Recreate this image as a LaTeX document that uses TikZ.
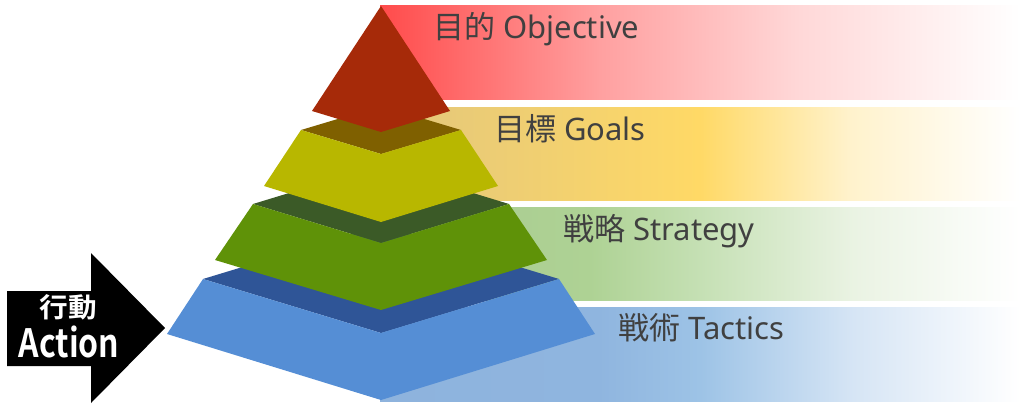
\documentclass[tikz,border=0pt]{standalone}
\usepackage{fontspec}
\setmainfont{Noto Sans}
\newfontfamily\cjk[BoldFont={Noto Sans CJK JP Bold}]{Noto Sans CJK JP}
\definecolor{txt}{HTML}{404040}
\definecolor{rA}{HTML}{FF4B4B}
\definecolor{rB}{HTML}{FFA0A0}
\definecolor{rC}{HTML}{FFD8D8}
\definecolor{yA}{HTML}{E2C67C}
\definecolor{yB}{HTML}{FFD966}
\definecolor{yC}{HTML}{FFF2CC}
\definecolor{gA}{HTML}{A8C991}
\definecolor{gB}{HTML}{AED294}
\definecolor{gC}{HTML}{C5E0B4}
\definecolor{gD}{HTML}{EAF3E3}
\definecolor{bA}{HTML}{8EB3DD}
\definecolor{bB}{HTML}{8FB5DF}
\definecolor{bC}{HTML}{9DC3E6}
\definecolor{bD}{HTML}{D6E5F5}
\definecolor{redface}{HTML}{A62A09}
\definecolor{ydark}{HTML}{7F6000}
\definecolor{yface}{HTML}{B8B700}
\definecolor{gdark}{HTML}{3B5A27}
\definecolor{gface}{HTML}{5F9208}
\definecolor{bdark}{HTML}{2F5597}
\definecolor{bface}{HTML}{558ED5}
\pgfdeclarehorizontalshading{redband}{100bp}{color(0bp)=(rA); color(25bp)=(rA); color(42.2bp)=(rB); color(57.8bp)=(rC); color(75bp)=(white); color(100bp)=(white)}
\pgfdeclarehorizontalshading{yellowband}{100bp}{color(0bp)=(yA); color(25bp)=(yA); color(50bp)=(yB); color(61.7bp)=(yC); color(75bp)=(white); color(100bp)=(white)}
\pgfdeclarehorizontalshading{greenband}{100bp}{color(0bp)=(gA); color(25bp)=(gA); color(41.4bp)=(gB); color(50bp)=(gC); color(62bp)=(gD); color(75bp)=(white); color(100bp)=(white)}
\pgfdeclarehorizontalshading{blueband}{100bp}{color(0bp)=(bA); color(25bp)=(bA); color(42bp)=(bB); color(50bp)=(bC); color(62bp)=(bD); color(75bp)=(white); color(100bp)=(white)}
\tikzset{
  lbl/.style={text=txt, inner sep=0pt, anchor=base west, font=\fontsize{31}{36}\selectfont},
  atext/.style={text=white, inner sep=0pt, font=\bfseries}
}
\begin{document}
\begin{tikzpicture}[x=1pt,y=-1pt]
\useasboundingbox (0,0) rectangle (1024,404);
% bands
\shade[shading=redband] (380,6) rectangle (1020,99);
\shade[shading=yellowband] (380,107) rectangle (1020,200);
\shade[shading=greenband] (380,207) rectangle (1020,300);
\shade[shading=blueband] (380,307) rectangle (1020,401);
% blue layer
\fill[bdark] (203,279) -- (381,225) -- (559,279) -- (381,333) -- cycle;
\fill[bface] (203,279) -- (381,333) -- (559,279) -- (595,334) -- (381,400) -- (167,334) -- cycle;
% green layer
\fill[gdark] (253,204) -- (381,165) -- (509,204) -- (381,243) -- cycle;
\fill[gface] (253,204) -- (381,243) -- (509,204) -- (547,260) -- (381,310) -- (215,260) -- cycle;
% yellow layer
\fill[ydark] (301,130) -- (381,106) -- (461,130) -- (381,154) -- cycle;
\fill[yface] (301,130) -- (381,154) -- (461,130) -- (498,186) -- (381,222) -- (264,186) -- cycle;
% red apex
\fill[redface] (381,6) -- (450,111) -- (381,132) -- (312,111) -- cycle;
% labels
\node[lbl] (tobj) at (433,38) {{\cjk 目的} Objective};
\node[lbl] (tgoal) at (494,140) {{\cjk 目標} Goals};
\node[lbl] (tstrat) at (563,240) {{\cjk 戦略} Strategy};
\node[lbl] (ttact) at (618,339) {{\cjk 戦術} Tactics};
% action arrow
\fill[black] (7,291) -- (91,291) -- (91,253) -- (165,328) -- (91,403) -- (91,366) -- (7,366) -- cycle;
\node[atext, font=\cjk\bfseries\fontsize{27}{30}\selectfont] (tact1) at (68,307) {\scalebox{1.06}[1]{行動}};
\node[atext, font=\cjk\bfseries\fontsize{39}{42}\selectfont] (tact2) at (69,342) {\scalebox{0.82}[1]{Action}};
\end{tikzpicture}
\end{document}
